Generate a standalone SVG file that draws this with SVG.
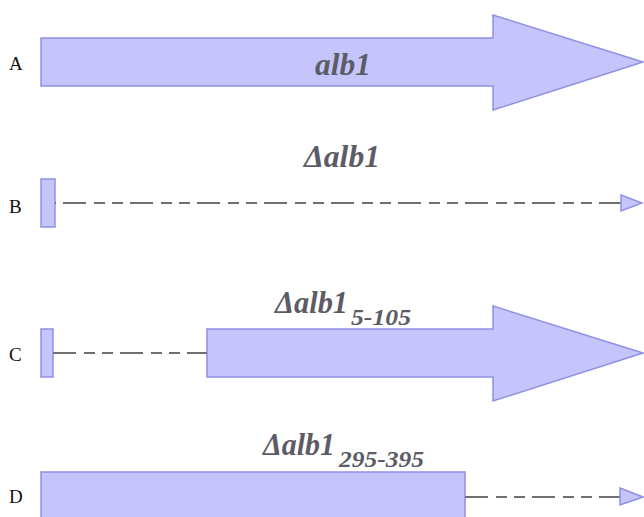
<svg xmlns="http://www.w3.org/2000/svg" width="644" height="517" viewBox="0 0 644 517" font-family="'Liberation Serif', 'DejaVu Serif', serif">
  <style>
    .gene { fill: #c5c5fb; stroke: #8f8fe6; stroke-width: 1.5; stroke-linejoin: miter; }
    .row { font-family: 'Liberation Serif', 'Times New Roman', serif; font-size: 19px; fill: #111; }
    .name { font-family: 'Liberation Serif', 'Times New Roman', serif; font-weight: bold; font-style: italic; font-size: 31px; fill: #5c5c66; }
    .sub { font-size: 23px; }
    .deleted { fill: none; stroke: #707070; stroke-width: 2; stroke-dasharray: 23 8 11 7 11 7; }
    .head { fill: #c5c5fb; stroke: #8f8fe6; stroke-width: 1.5; }
  </style>

  <!-- Row A: full-length gene -->
  <g id="row-a">
    <text class="row" x="9" y="70">A</text>
    <polygon class="gene" points="41,38 493,38 493,15 643,62 493,110 493,86 41,86"/>
    <text class="name" x="315" y="75" textLength="56" lengthAdjust="spacingAndGlyphs">alb1</text>
  </g>

  <!-- Row B: complete deletion -->
  <g id="row-b">
    <text class="row" x="9" y="213">B</text>
    <rect class="gene" x="41" y="179" width="14" height="48"/>
    <text class="name" x="304" y="167" textLength="76" lengthAdjust="spacingAndGlyphs">Δalb1</text>
  </g>

  <!-- Row C: N-terminal deletion -->
  <g id="row-c">
    <text class="row" x="9" y="361">C</text>
    <rect class="gene" x="41" y="329" width="12" height="48"/>
    <polygon class="gene" points="207,329 493,329 493,306 643,353 493,401 493,377 207,377"/>
    <text class="name" x="275" y="313"><tspan textLength="73" lengthAdjust="spacingAndGlyphs">Δalb1</tspan><tspan class="sub" x="351" y="325" textLength="60" lengthAdjust="spacingAndGlyphs">5-105</tspan></text>
  </g>

  <!-- Row D: C-terminal deletion -->
  <g id="row-d">
    <text class="row" x="9" y="503">D</text>
    <rect class="gene" x="41" y="472" width="424" height="50"/>
    <text class="name" x="263" y="455"><tspan textLength="72" lengthAdjust="spacingAndGlyphs">Δalb1</tspan><tspan class="sub" x="339" y="467" textLength="85" lengthAdjust="spacingAndGlyphs">295-395</tspan></text>
  </g>

  <!-- Deleted regions (dashed) with small terminal heads -->
  <g id="connectors">
    <path class="deleted" d="M55,203 H621" stroke-dashoffset="-8"/>
    <polygon class="head" points="621,195 642,203 621,211"/>
    <path class="deleted" d="M53,353 H207"/>
    <path class="deleted" d="M465,497 H620"/>
    <polygon class="head" points="620,488 643,497 620,505"/>
  </g>
</svg>
